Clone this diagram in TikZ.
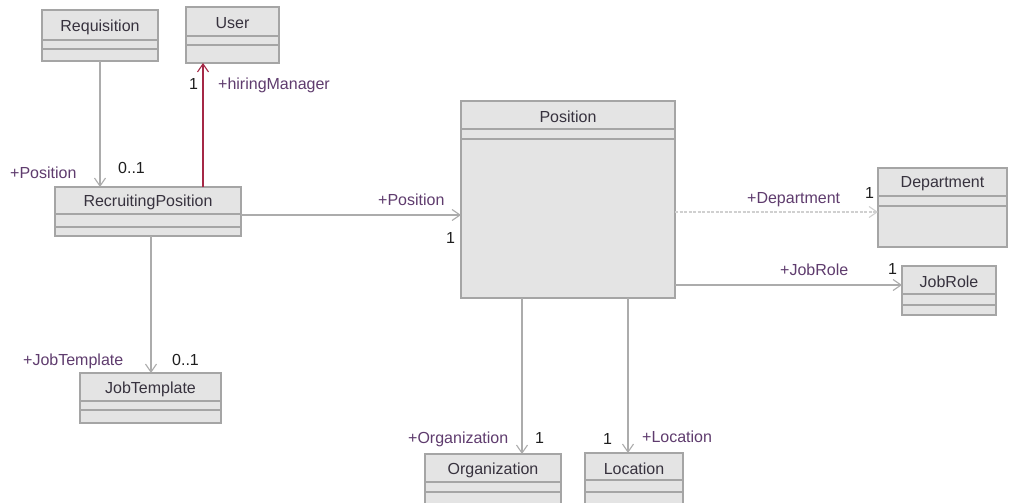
\documentclass[tikz,border=0pt]{standalone}
\usepackage{fontspec}
\setmainfont{Liberation Sans}
\usetikzlibrary{arrows.meta}
\definecolor{boxfill}{RGB}{228,228,228}
\definecolor{boxline}{RGB}{165,165,165}
\definecolor{conn}{RGB}{172,172,172}
\definecolor{connlight}{RGB}{208,208,208}
\definecolor{redconn}{RGB}{165,40,70}
\definecolor{rolecol}{RGB}{95,60,110}
\definecolor{namecol}{RGB}{55,50,62}
\definecolor{multcol}{RGB}{30,30,30}
\tikzset{
  cls/.style={draw=boxline, fill=boxfill, line width=1.1pt, anchor=north west, inner sep=0pt, outer sep=0pt},
  div/.style={draw=boxline, line width=1.1pt},
  cname/.style={font=\fontsize{16}{18}\selectfont, text=namecol, inner sep=0pt},
  role/.style={font=\fontsize{16}{18}\selectfont, text=rolecol, inner sep=0pt, anchor=base west},
  mult/.style={font=\fontsize{16}{18}\selectfont, text=multcol, inner sep=0pt, anchor=base west},
  assoc/.style={draw=conn, line width=1.1pt, -{Straight Barb[length=8pt,width=11pt,line width=1.1pt]}},
  assoclight/.style={assoc, draw=connlight, dash pattern=on 3pt off 1.5pt},
  assocred/.style={assoc, draw=redconn},
}
\newcommand\umlcls[8]{%
  \node[cls, minimum width=#4pt, minimum height=#5pt] (#1) at (#2,#3) {};
  \draw[div] ([yshift=-#6pt]#1.north west) -- ([yshift=-#6pt]#1.north east);
  \draw[div] ([yshift=-#7pt]#1.north west) -- ([yshift=-#7pt]#1.north east);
  \node[cname] (#1-t) at ([yshift=-#6pt/2-2pt]#1.north) {#8};
}
\begin{document}
\begin{tikzpicture}[x=1pt,y=-1pt]
\useasboundingbox (0,0) rectangle (1010,503);
\clip (0,0) rectangle (1010,503);
\fill[white] (0,0) rectangle (1010,503);
% classes
\umlcls{req}{42}{10}{116}{51}{30}{39}{Requisition}
\umlcls{user}{186}{7}{93}{56}{29}{38}{User}
\umlcls{rp}{55}{187}{186}{49}{27}{40}{RecruitingPosition}
\umlcls{pos}{461}{101}{214}{197}{28}{38}{Position}
\umlcls{dept}{878}{168}{129}{79}{28}{38}{Department}
\umlcls{jobrole}{902}{266}{94}{49}{28}{39}{JobRole}
\umlcls{jt}{80}{373}{141}{50}{28}{37}{JobTemplate}
\umlcls{org}{425}{454}{136}{56}{28}{38}{Organization}
\umlcls{loc}{585}{453}{98}{57}{27}{39}{Location}
% connectors
\draw[assoc] (req.south) -- (req.south |- rp.north);
\draw[assocred] ([xshift=55pt]rp.north) -- ([xshift=55pt]rp.north |- user.south);
\draw[assoc] ([yshift=-3.5pt]rp.east) -- ([yshift=-3.5pt]rp.east -| pos.west);
\draw[assoc] ([xshift=3pt]rp.south) -- ([xshift=3pt]rp.south |- jt.north);
\draw[assoclight] ([yshift=-12.5pt]pos.east) -- ([yshift=-12.5pt]pos.east -| dept.west);
\draw[assoc] ([yshift=-85.5pt]pos.east) -- ([yshift=-85.5pt]pos.east -| jobrole.west);
\draw[assoc] ([xshift=-46pt]pos.south) -- ([xshift=-46pt]pos.south |- org.north);
\draw[assoc] ([xshift=60pt]pos.south) -- ([xshift=60pt]pos.south |- loc.north);
% labels
\node[role] (l1) at (10,178) {+Position};
\node[mult] (m1) at (118,173) {0..1};
\node[mult] (m2) at (189,89) {1};
\node[role] (l2) at (218,89) {+hiringManager};
\node[role] (l3) at (378,205) {+Position};
\node[mult] (m3) at (446,243) {1};
\node[role] (l4) at (747,203) {+Department};
\node[mult] (m4) at (865,198) {1};
\node[role] (l5) at (780,275) {+JobRole};
\node[mult] (m5) at (888,274) {1};
\node[role] (l6) at (23,365) {+JobTemplate};
\node[mult] (m6) at (172,365) {0..1};
\node[role] (l7) at (408,443) {+Organization};
\node[mult] (m7) at (535,443) {1};
\node[mult] (m8) at (603,444) {1};
\node[role] (l8) at (642,442) {+Location};
\end{tikzpicture}
\end{document}
